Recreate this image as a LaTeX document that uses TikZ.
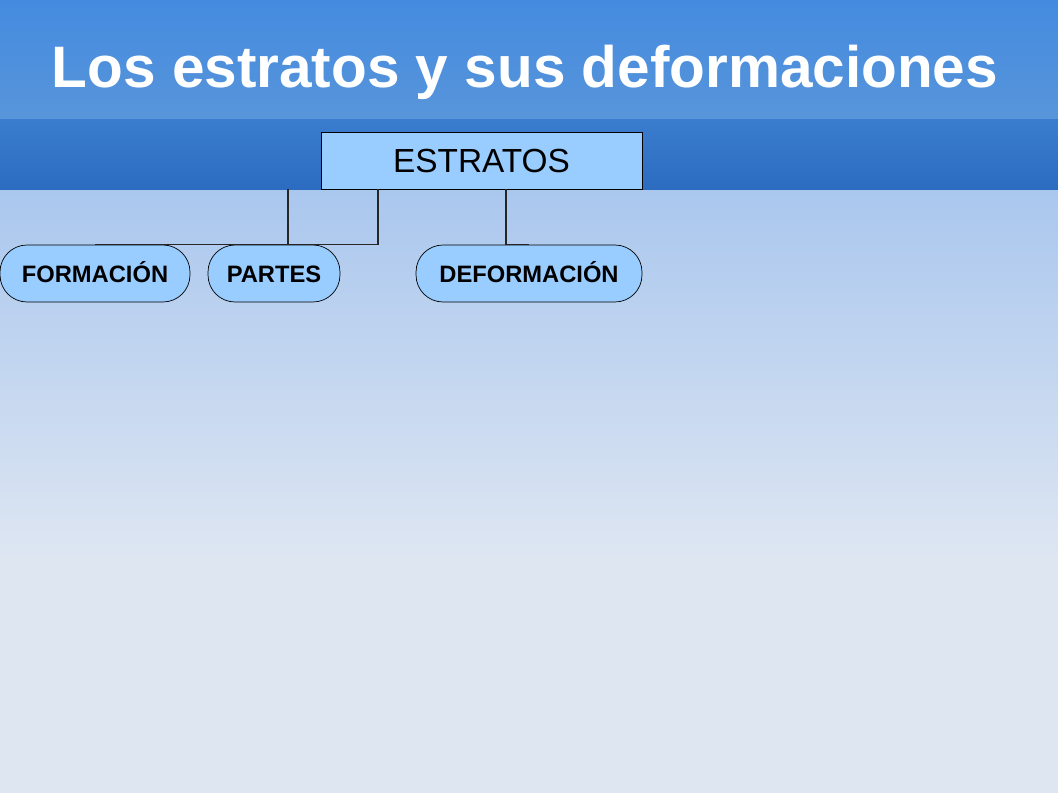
\documentclass[tikz,border=0pt]{standalone}
\usepackage{fontspec}
\setmainfont{Liberation Sans}
\definecolor{bandtop}{RGB}{68,139,224}
\definecolor{bandmid}{RGB}{88,149,218}
\definecolor{striptop}{RGB}{58,124,206}
\definecolor{stripbot}{RGB}{44,108,192}
\definecolor{bodytop}{RGB}{170,199,238}
\definecolor{bodybot}{RGB}{222,230,242}
\definecolor{boxfill}{RGB}{153,204,255}
\tikzset{
  mainbox/.style={draw=black, fill=boxfill, minimum width=6.42cm, minimum height=1.14cm,
    inner sep=0pt, text height=13.6pt, text depth=0pt, font=\fontsize{19}{22}\selectfont},
  subbox/.style={draw=black, fill=boxfill, rounded corners=0.54cm, minimum height=1.14cm,
    inner sep=0pt, text height=9.7pt, text depth=0pt, font=\fontsize{13.5}{16}\selectfont\bfseries},
  link/.style={draw=black!85, line width=0.6pt}
}
\begin{document}
\begin{tikzpicture}[x=0.02cm, y=-0.02cm]
        \useasboundingbox (0,0) rectangle (1058,793);

        % background bands
        \fill[bodybot] (0,190) rectangle (1058,793);
        \shade[top color=bodytop, bottom color=bodybot] (0,190) rectangle (1058,560);
        \shade[top color=bandtop, bottom color=bandmid] (0,0) rectangle (1058,120);
        \shade[top color=striptop, bottom color=stripbot] (0,120) rectangle (1058,190);

        % title
        \node[text=white, font=\fontsize{33.3}{40}\selectfont\bfseries] (title) at (525,72)
          {Los estratos y sus deformaciones};

        % boxes
        \node[mainbox] (estr) at (481.5,160.5) {ESTRATOS};
        \node[subbox, minimum width=3.8cm] (form) at (95,273.5) {FORMACIÓN};
        \node[subbox, minimum width=2.64cm] (part) at (274,273.5) {PARTES};
        \node[subbox, minimum width=4.52cm] (defo) at (529,273.5) {DEFORMACIÓN};

        % connectors
        \draw[link] (estr.south west -| 288,0) |- (form.north);
        \draw[link] (estr.south west -| 378,0) |- (part.north);
        \draw[link] (estr.south west -| 506,0) |- (defo.north);
      \end{tikzpicture}
\end{document}
